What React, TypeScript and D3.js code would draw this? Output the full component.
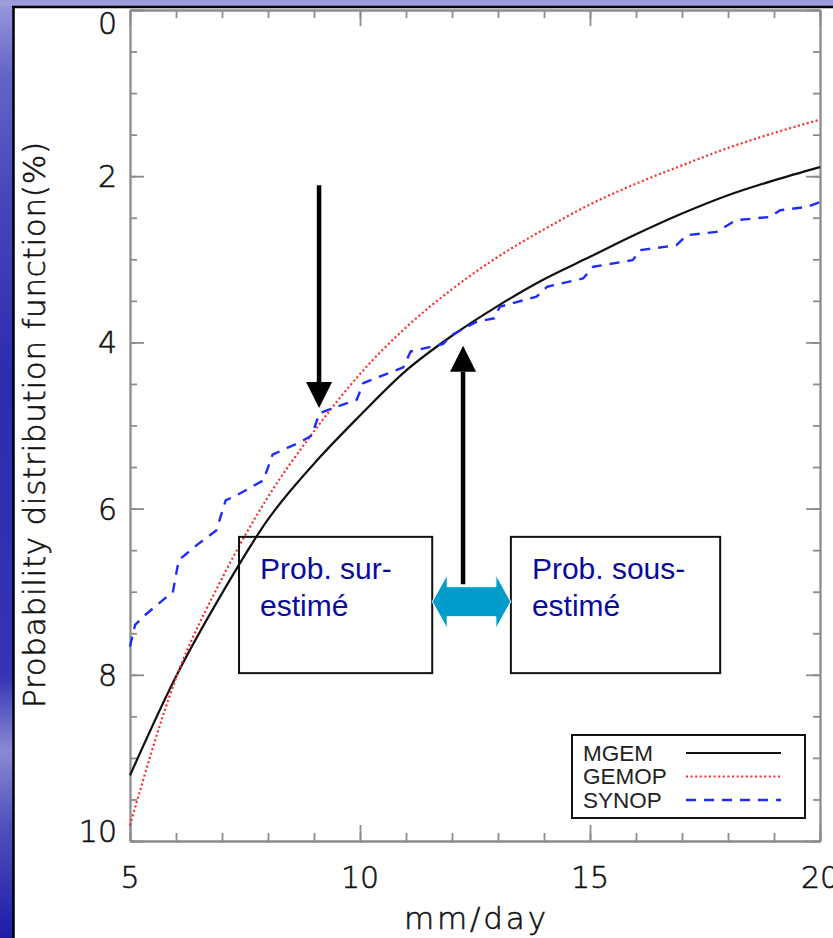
import { useEffect, useRef } from "react";
import * as d3 from "d3";

const W = 833;
const H = 938;
const MARGIN = { top: 10, right: 13, bottom: 97, left: 130 };

// tick labels
const xTicks = [5, 10, 15, 20];
const yTicks = [0, 2, 4, 6, 8, 10];

// fitted pdfs, read at each mm/day
const fitX = [5, 6, 7, 8, 9, 10, 11, 12, 13, 14, 15, 16, 17, 18, 19, 20];
const mgemY = [9.21, 8.02, 7.02, 6.13, 5.46, 4.88, 4.34, 3.92, 3.56, 3.24, 2.97, 2.7, 2.45, 2.23, 2.05, 1.89];
const gemopY = [9.81, 8.04, 6.84, 5.86, 5.07, 4.38, 3.82, 3.36, 2.97, 2.64, 2.34, 2.09, 1.87, 1.66, 1.48, 1.32];

// observed pdf (jagged)
const synopX = [5.0, 5.11, 5.33, 5.76, 5.93, 6.06, 6.45, 6.88, 7.08, 7.32, 7.9, 8.1, 8.7, 8.95, 9.12, 9.93, 10.07, 10.94, 11.1, 11.8, 12.0, 12.54, 12.92, 13.04, 13.84, 14.07, 14.85, 15.07, 15.93, 16.09, 16.88, 17.1, 17.75, 18.17, 18.91, 19.13, 19.71, 20.0];
const synopY = [7.66, 7.4, 7.28, 7.08, 7.01, 6.62, 6.44, 6.26, 5.9, 5.84, 5.66, 5.35, 5.2, 5.12, 4.85, 4.69, 4.49, 4.3, 4.11, 4.02, 3.91, 3.75, 3.71, 3.57, 3.45, 3.33, 3.23, 3.09, 3.01, 2.89, 2.83, 2.71, 2.67, 2.53, 2.49, 2.41, 2.37, 2.31];

const seriesNames = ["MGEM", "GEMOP", "SYNOP"];

// annotations (data units)
const downArrow = { x: 9.11, from: 2.11, to: 4.79 };
const upArrow = { x: 12.24, from: 6.91, to: 4.04 };
const noteBoxes = [
  { x0: 7.37, x1: 11.57, y0: 6.34, y1: 7.98, lines: ["Prob. sur-", "estimé"] },
  { x0: 13.28, x1: 17.83, y0: 6.34, y1: 7.98, lines: ["Prob. sous-", "estimé"] },
];
const doubleArrow = { x0: 11.57, x1: 13.28, y: 7.12 };

const STYLES = [
  { color: "#111111", dash: null, width: 2.2 },
  { color: "#ff2a2a", dash: "2,2.6", width: 2.2 },
  { color: "#1f2cff", dash: "10,8", width: 2.4 },
];

const AXIS_COLOR = "#8c8c8c";
const TICK_FONT = "DejaVu Sans, sans-serif";

const App = () => {
  const svgRef = useRef(null);

  useEffect(() => {
    document.body.style.margin = "0";
    const svg = d3.select(svgRef.current);
    svg.selectAll("*").remove();

    const left = MARGIN.left;
    const right = W - MARGIN.right;
    const top = MARGIN.top;
    const bottom = H - MARGIN.bottom;

    const x = d3.scaleLinear().domain([5, 20]).range([left, right]);
    const y = d3.scaleLinear().domain([0, 10]).range([top, bottom]);

    // slide background
    const defs = svg.append("defs");
    const bg = defs
      .append("linearGradient")
      .attr("id", "slide-bg")
      .attr("x1", 0)
      .attr("y1", 0)
      .attr("x2", 0)
      .attr("y2", 1);
    [
      [0, "#9a9ade"],
      [0.08, "#6464c6"],
      [0.2, "#4848bc"],
      [0.4, "#2c2cb0"],
      [0.72, "#3434b4"],
      [0.8, "#8a8ad2"],
      [0.88, "#5050bc"],
      [1, "#1c1ca8"],
    ].forEach(([o, c]) => bg.append("stop").attr("offset", o).attr("stop-color", c));

    svg.append("rect").attr("width", W).attr("height", H).attr("fill", "url(#slide-bg)");
    svg.append("rect").attr("x", 0).attr("y", 0).attr("width", W).attr("height", 6).attr("fill", "#9c9cdc");
    svg.append("rect").attr("x", 14).attr("y", 8).attr("width", W - 14).attr("height", H - 8).attr("fill", "#fff");
    svg.append("line").attr("x1", 13.5).attr("x2", 13.5).attr("y1", 6).attr("y2", H)
      .attr("stroke", "#000").attr("stroke-width", 2.5);
    svg.append("line").attr("x1", 12).attr("x2", W).attr("y1", 7).attr("y2", 7)
      .attr("stroke", "#000").attr("stroke-width", 2.5);

    // axes (ticks point inward)
    const xMinor = d3.range(5, 20.01, 1);
    const yMinor = d3.range(0, 10.01, 0.5);
    const styleAxis = (g) => {
      g.selectAll("path,line").attr("stroke", AXIS_COLOR).attr("stroke-width", 1.8);
      g.selectAll("text").remove();
    };
    const axesDef = [
      [d3.axisBottom(x), `translate(0,${bottom})`, xMinor, xTicks, -8, -16],
      [d3.axisTop(x), `translate(0,${top})`, xMinor, xTicks, -8, -16],
      [d3.axisLeft(y), `translate(${left},0)`, yMinor, yTicks, -7, -14],
      [d3.axisRight(y), `translate(${right},0)`, yMinor, yTicks, -7, -14],
    ];
    axesDef.forEach(([gen, tr, minor, major, sMin, sMaj]) => {
      svg.append("g").attr("transform", tr)
        .call(gen.tickValues(minor).tickSize(sMin).tickSizeOuter(0).tickFormat(() => ""))
        .call(styleAxis);
      svg.append("g").attr("transform", tr)
        .call(gen.tickValues(major).tickSize(sMaj).tickSizeOuter(0).tickFormat(() => ""))
        .call(styleAxis);
    });

    const lightText = (sel) =>
      sel
        .attr("font-family", TICK_FONT)
        .attr("font-weight", 300)
        .attr("fill", "#111")
        .attr("stroke", "#111")
        .attr("stroke-width", 0.55);

    // tick labels
    svg.append("g")
      .selectAll("text")
      .data(xTicks)
      .join("text")
      .attr("x", (d) => x(d))
      .attr("y", bottom + 47)
      .attr("text-anchor", "middle")
      .attr("font-size", 30)
      .call(lightText)
      .text((d) => d);

    svg.append("g")
      .selectAll("text")
      .data(yTicks)
      .join("text")
      .attr("x", left - 13)
      .attr("y", (d) => Math.min(Math.max(y(d), top + 13), bottom - 10) + 11)
      .attr("text-anchor", "end")
      .attr("font-size", 30)
      .call(lightText)
      .text((d) => d);

    // axis titles
    svg.append("text")
      .attr("x", 475)
      .attr("y", 929)
      .attr("text-anchor", "middle")
      .attr("font-size", 31)
      .attr("textLength", 142)
      .attr("lengthAdjust", "spacing")
      .call(lightText)
      .text("mm/day");

    svg.append("text")
      .attr("transform", "translate(45,425) rotate(-90)")
      .attr("text-anchor", "middle")
      .attr("font-size", 31)
      .attr("textLength", 566)
      .attr("lengthAdjust", "spacing")
      .call(lightText)
      .text("Probability distribution function(%)");

    // series
    const plot = svg.append("g");
    const smooth = d3.line().x((d) => x(d[0])).y((d) => y(d[1])).curve(d3.curveMonotoneX);
    const jag = d3.line().x((d) => x(d[0])).y((d) => y(d[1]));
    const series = [
      { pts: fitX.map((v, i) => [v, mgemY[i]]), gen: smooth },
      { pts: fitX.map((v, i) => [v, gemopY[i]]), gen: smooth },
      { pts: synopX.map((v, i) => [v, synopY[i]]), gen: jag },
    ];
    series.forEach((s, i) => {
      plot.append("path")
        .attr("d", s.gen(s.pts))
        .attr("fill", "none")
        .attr("stroke", STYLES[i].color)
        .attr("stroke-width", STYLES[i].width)
        .attr("stroke-dasharray", STYLES[i].dash)
        .attr("stroke-linejoin", "round");
    });

    // legend
    const leg = svg.append("g");
    leg.append("rect")
      .attr("x", 572).attr("y", 735).attr("width", 233).attr("height", 83)
      .attr("fill", "#fff").attr("stroke", "#111").attr("stroke-width", 2);
    seriesNames.forEach((name, i) => {
      const yy = 753 + i * 23.5;
      leg.append("text")
        .attr("x", 583).attr("y", yy + 7.5)
        .attr("font-family", "Liberation Sans, Arial, sans-serif")
        .attr("font-size", 22.5)
        .attr("fill", "#222")
        .text(name);
      leg.append("line")
        .attr("x1", 686).attr("x2", 781).attr("y1", yy).attr("y2", yy)
        .attr("stroke", STYLES[i].color)
        .attr("stroke-width", STYLES[i].width)
        .attr("stroke-dasharray", STYLES[i].dash);
    });

    // annotation arrows
    const ann = svg.append("g");
    const arrow = (a) => {
      const dir = a.to > a.from ? 1 : -1;
      const tipY = y(a.to);
      const baseY = tipY - dir * 26;
      const cx = x(a.x);
      ann.append("line")
        .attr("x1", cx).attr("x2", cx).attr("y1", y(a.from)).attr("y2", baseY)
        .attr("stroke", "#000").attr("stroke-width", 4.5);
      ann.append("path")
        .attr("d", `M${cx - 13},${baseY}L${cx + 13},${baseY}L${cx},${tipY}Z`)
        .attr("fill", "#000");
    };
    arrow(downArrow);
    arrow(upArrow);

    noteBoxes.forEach((b) => {
      ann.append("rect")
        .attr("x", x(b.x0)).attr("y", y(b.y0))
        .attr("width", x(b.x1) - x(b.x0)).attr("height", y(b.y1) - y(b.y0))
        .attr("fill", "none").attr("stroke", "#111").attr("stroke-width", 2);
      b.lines.forEach((t, i) => {
        ann.append("text")
          .attr("x", x(b.x0) + 21)
          .attr("y", y(b.y0) + 42 + i * 37)
          .attr("font-family", "Liberation Sans, Arial, sans-serif")
          .attr("font-size", 30)
          .attr("fill", "#0a0a9c")
          .text(t);
      });
    });

    const lx = x(doubleArrow.x0);
    const rx = x(doubleArrow.x1);
    const cy = y(doubleArrow.y);
    const hl = 15;
    ann.append("path")
      .attr(
        "d",
        `M${lx},${cy}L${lx + hl},${cy - 27}L${lx + hl},${cy - 15}L${rx - hl},${cy - 15}L${rx - hl},${cy - 27}` +
          `L${rx},${cy}L${rx - hl},${cy + 27}L${rx - hl},${cy + 15}L${lx + hl},${cy + 15}L${lx + hl},${cy + 27}Z`
      )
      .attr("fill", "#049dcb")
      .attr("stroke", "#fff")
      .attr("stroke-width", 1);
  }, []);

  return (
    <svg
      ref={svgRef}
      width={W}
      height={H}
      style={{ display: "block", position: "absolute", left: 0, top: 0 }}
    ></svg>
  );
};

export default App;
